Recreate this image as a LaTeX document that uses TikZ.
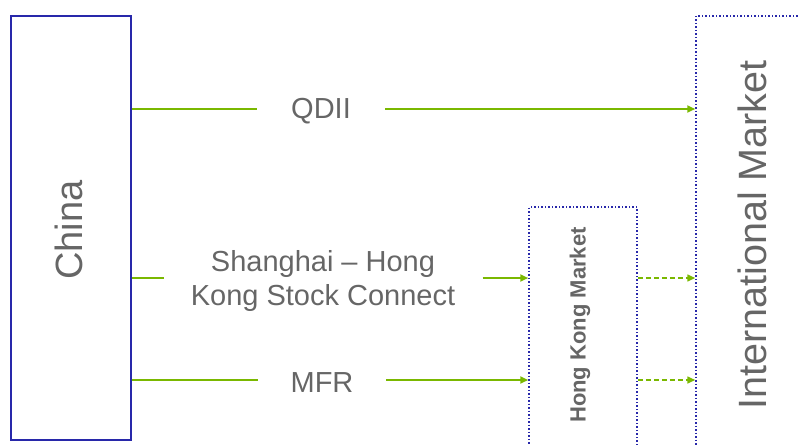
\documentclass[tikz,border=0pt]{standalone}
\usepackage{fontspec}
\setmainfont{Liberation Sans}
\usetikzlibrary{arrows.meta,positioning}
\definecolor{boxblue}{RGB}{40,40,170}
\definecolor{flowgreen}{RGB}{122,184,0}
\definecolor{txtgray}{RGB}{102,102,102}

\begin{document}
\begin{tikzpicture}[x=1pt,y=-1pt,>={Triangle[length=8pt,width=7pt]},line width=2pt]
\tikzstyle{market}=[shape=rectangle,draw=boxblue,inner sep=0pt]
\tikzstyle{route}=[text=txtgray,font=\fontsize{29}{34}\selectfont,align=center,inner sep=0pt]
\tikzstyle{flow}=[draw=flowgreen,line width=2pt]
\tikzstyle{pass}=[flow,->,dashed,line width=1.5pt,dash pattern=on 5pt off 3pt]

\useasboundingbox (0,0) rectangle (799,444);
\clip (0,0) rectangle (799,444);

% markets
\node[market,line width=2pt,minimum width=120pt,minimum height=424pt] (CN) at (71,228) {};
\node[market,dotted,line width=1.5pt,minimum width=108pt,minimum height=270pt] (HK) at (583,342) {};
\node[market,dotted,line width=1.5pt,minimum width=150pt,minimum height=470pt] (INT) at (771,251) {};

\node[rotate=90,text=txtgray,font=\fontsize{38}{44}\selectfont] (CNt) at (69,230) {China};
\node[rotate=90,text=txtgray,font=\bfseries\fontsize{22}{26}\selectfont] (HKt) at (580,325) {Hong Kong Market};
\node[rotate=90,text=txtgray,font=\fontsize{39.5}{46}\selectfont] (INTt) at (752,235) {International Market};

% channels
\node[route,minimum width=126pt] (QD) at (321,111) {QDII};
\node[route,minimum width=317pt] (SH) at (323,281) {Shanghai -- Hong\\Kong Stock Connect};
\node[route,minimum width=126pt] (MF) at (322,383) {MFR};

\coordinate (q) at (0,109);
\coordinate (s) at (0,278);
\coordinate (m) at (0,380);

\path
(CN.east |- q) edge[flow] (QD.west |- q)
(CN.east |- s) edge[flow] (SH.west |- s)
(CN.east |- m) edge[flow] (MF.west |- m)
(QD.east |- q) edge[flow,->] (INT.west |- q)
(SH.east |- s) edge[flow,->] (HK.west |- s)
(MF.east |- m) edge[flow,->] (HK.west |- m)
(HK.east |- s) edge[pass] (INT.west |- s)
(HK.east |- m) edge[pass] (INT.west |- m);
\end{tikzpicture}
\end{document}
